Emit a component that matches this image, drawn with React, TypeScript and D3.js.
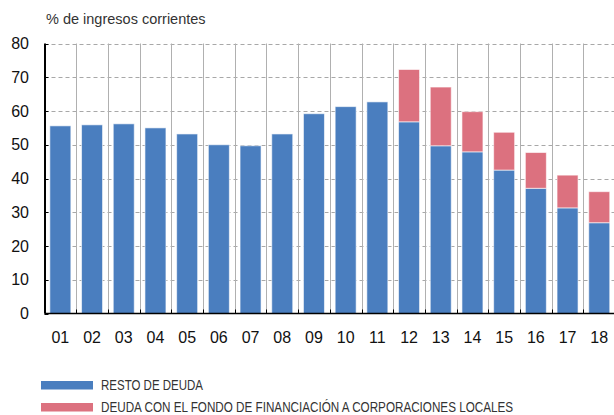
import React, { useEffect, useRef } from "react";
import * as d3 from "d3";

const years = ["01", "02", "03", "04", "05", "06", "07", "08", "09", "10", "11", "12", "13", "14", "15", "16", "17", "18"];
const restoDeuda = [55.6, 55.9, 56.2, 55.0, 53.2, 50.0, 49.7, 53.2, 59.2, 61.3, 62.7, 56.8, 49.7, 47.9, 42.5, 37.1, 31.3, 26.9];
const deudaFondo = [0, 0, 0, 0, 0, 0, 0, 0, 0, 0, 0, 15.5, 17.4, 11.9, 11.2, 10.6, 9.7, 9.2];
const yTicks = [0, 10, 20, 30, 40, 50, 60, 70, 80];
const seriesNames = ["RESTO DE DEUDA", "DEUDA CON EL FONDO DE FINANCIACIÓN A CORPORACIONES LOCALES"];
const colors = ["#4a7ebf", "#dc717f"];

export default function App() {
  const svgRef = useRef<SVGSVGElement>(null);
  const width = 614;
  const height = 415;

  useEffect(() => {
    const svg = d3.select(svgRef.current);
    svg.selectAll("*").remove();

    const left = 44.5;
    const top = 43.5;
    const bottom = 313.5;

    const x = d3.scaleBand().domain(years).range([left, left + 18 * 31.7]).padding(0);
    const y = d3.scaleLinear().domain([0, 80]).range([bottom, top]);

    const font = "'Liberation Sans', Arial, Helvetica, sans-serif";

    // title
    svg.append("text")
      .attr("x", 46)
      .attr("y", 24)
      .style("font-family", font)
      .style("font-size", "14.5px")
      .style("fill", "#333")
      .text("% de ingresos corrientes");

    // horizontal dashed grid
    svg.append("g")
      .selectAll("line")
      .data(yTicks.filter((t) => t > 0))
      .join("line")
      .attr("x1", left)
      .attr("x2", width)
      .attr("y1", (d) => Math.round(y(d)) + 0.5)
      .attr("y2", (d) => Math.round(y(d)) + 0.5)
      .attr("stroke", "#a8a8a8")
      .attr("stroke-dasharray", "4,3");

    // vertical grid at band boundaries
    svg.append("g")
      .selectAll("line")
      .data(years.slice(1))
      .join("line")
      .attr("x1", (d) => Math.round(x(d)!) + 0.5)
      .attr("x2", (d) => Math.round(x(d)!) + 0.5)
      .attr("y1", top)
      .attr("y2", bottom)
      .attr("stroke", "#b0b0b0");

    // stacked bars
    const rows = years.map((yr, i) => ({ year: yr, resto: restoDeuda[i], fondo: deudaFondo[i] }));
    const stacked = d3.stack<any>().keys(["resto", "fondo"])(rows);
    const barW = 21;
    svg.append("g")
      .selectAll("g")
      .data(stacked)
      .join("g")
      .attr("fill", (_, i) => colors[i])
      .selectAll("rect")
      .data((d) => d.filter((p) => p[1] - p[0] > 0))
      .join("rect")
      .attr("x", (d) => x(d.data.year)! + x.bandwidth() / 2 - barW / 2)
      .attr("width", barW)
      .attr("y", (d) => y(d[1]))
      .attr("height", (d) => y(d[0]) - y(d[1]))
      .attr("stroke", "rgba(255,255,255,0.6)")
      .attr("stroke-width", 1);

    // x axis line and ticks
    svg.append("line")
      .attr("x1", left)
      .attr("x2", width)
      .attr("y1", bottom)
      .attr("y2", bottom)
      .attr("stroke", "#000")
      .attr("stroke-width", 1.5);
    svg.append("g")
      .selectAll("line")
      .data(years.slice(1))
      .join("line")
      .attr("x1", (d) => Math.round(x(d)!) + 0.5)
      .attr("x2", (d) => Math.round(x(d)!) + 0.5)
      .attr("y1", bottom - 4)
      .attr("y2", bottom)
      .attr("stroke", "#000");

    // y axis
    svg.append("line")
      .attr("x1", left + 0.5)
      .attr("x2", left + 0.5)
      .attr("y1", top)
      .attr("y2", bottom)
      .attr("stroke", "#000")
      .attr("stroke-width", 2);
    svg.append("g")
      .selectAll("line")
      .data(yTicks)
      .join("line")
      .attr("x1", left)
      .attr("x2", left + 4)
      .attr("y1", (d) => Math.round(y(d)) + 0.5)
      .attr("y2", (d) => Math.round(y(d)) + 0.5)
      .attr("stroke", "#000");

    svg.append("g")
      .selectAll("text")
      .data(yTicks)
      .join("text")
      .attr("x", 29)
      .attr("y", (d) => y(d))
      .attr("dy", "0.35em")
      .attr("text-anchor", "end")
      .style("font-family", font)
      .style("font-size", "16px")
      .style("fill", "#111")
      .text((d) => d);

    svg.append("g")
      .selectAll("text")
      .data(years)
      .join("text")
      .attr("x", (d) => x(d)! + x.bandwidth() / 2)
      .attr("y", 337)
      .attr("dy", "0.35em")
      .attr("text-anchor", "middle")
      .style("font-family", font)
      .style("font-size", "16px")
      .style("fill", "#111")
      .text((d) => d);

    // legend
    const legend = svg.append("g")
      .selectAll("g")
      .data(seriesNames)
      .join("g")
      .attr("transform", (_, i) => `translate(41,${381 + i * 22})`);
    legend.append("rect")
      .attr("width", 52)
      .attr("height", 8.5)
      .attr("fill", (_, i) => colors[i]);
    legend.append("text")
      .attr("x", 60)
      .attr("y", 4)
      .attr("dy", "0.35em")
      .style("font-family", "'Liberation Sans Narrow', 'Arial Narrow', sans-serif")
      .style("font-size", "14px")
      .style("fill", "#333")
      .attr("textLength", (_, i) => (i === 0 ? 102 : 412))
      .attr("lengthAdjust", "spacingAndGlyphs")
      .text((d) => d);
  }, []);

  return (
    <div style={{ position: "absolute", left: 0, top: 0 }}>
      <svg ref={svgRef} width={width} height={height} style={{ display: "block" }} />
    </div>
  );
}
